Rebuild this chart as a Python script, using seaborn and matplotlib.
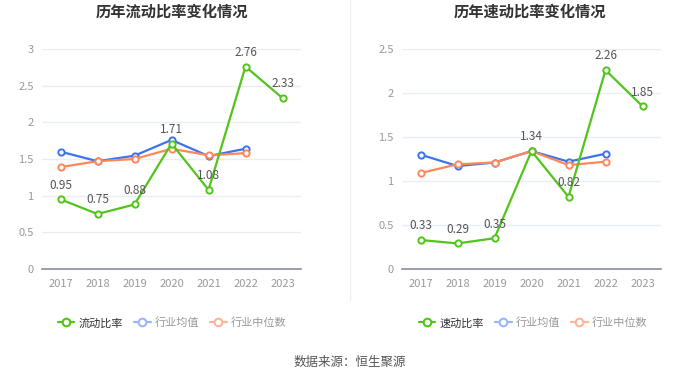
import matplotlib
matplotlib.use("Agg")
import matplotlib.pyplot as plt
import seaborn as sns
import pandas as pd
from matplotlib.lines import Line2D

years = ["2017", "2018", "2019", "2020", "2021", "2022", "2023"]
current_ratio = [0.95, 0.75, 0.88, 1.71, 1.08, 2.76, 2.33]
current_ind_mean = [1.60, 1.47, 1.545, 1.76, 1.54, 1.64, None]
current_ind_median = [1.39, 1.47, 1.50, 1.64, 1.55, 1.58, None]
quick_ratio = [0.33, 0.29, 0.35, 1.34, 0.82, 2.26, 1.85]
quick_ind_mean = [1.30, 1.17, 1.21, 1.34, 1.22, 1.31, None]
quick_ind_median = [1.09, 1.19, 1.21, 1.34, 1.18, 1.22, None]

sns.set_theme(style="white")
plt.rcParams['font.family'] = ['Noto Sans CJK SC', 'DejaVu Sans']

GREEN = "#52c41a"
BLUE = "#3b73f0"
ORANGE = "#ff875a"

fig = plt.figure(figsize=(7.0, 3.78), dpi=100)
ax1 = fig.add_axes([42/700, 1-269/378, 259/700, 220/378])
ax2 = fig.add_axes([402/700, 1-269/378, 259/700, 220/378])

def draw(ax, main, mean, median, ymax, yticks):
    df = pd.DataFrame({"year": list(range(len(years))), "main": main,
                       "mean": mean, "median": median})
    for col, color, z in [("mean", BLUE, 3), ("median", ORANGE, 4), ("main", GREEN, 5)]:
        sub = df[["year", col]].dropna()
        sns.lineplot(data=sub, x="year", y=col, ax=ax, color=color, lw=1.6,
                     marker="o", markersize=4.5, markerfacecolor="white",
                     markeredgecolor=color, markeredgewidth=1.4, zorder=z)
    for i, v in enumerate(main):
        ax.text(i, v + ymax * 0.035, f"{v:.2f}",
                ha="center", va="bottom", fontsize=8.5, color="#555555", zorder=6)
    ax.set_xlim(-0.5, len(years) - 0.5)
    ax.set_ylim(0, ymax)
    ax.set_yticks(yticks)
    ax.set_yticklabels([f"{t:g}" for t in yticks])
    ax.set_xticks(range(len(years)))
    ax.set_xticklabels(years)
    ax.tick_params(axis="both", labelsize=8, colors="#999999", length=0, pad=6)
    ax.tick_params(axis="x", length=4, color="#888888", pad=3)
    ax.grid(axis="y", color="#e9edf4", lw=1)
    ax.set_axisbelow(True)
    for s in ["top", "right", "left"]:
        ax.spines[s].set_visible(False)
    ax.spines["bottom"].set_color("#8a8f99")
    ax.spines["bottom"].set_linewidth(1.2)
    ax.set_xlabel("")
    ax.set_ylabel("")

draw(ax1, current_ratio, current_ind_mean, current_ind_median,
     3, [0, 0.5, 1, 1.5, 2, 2.5, 3])
draw(ax2, quick_ratio, quick_ind_mean, quick_ind_median,
     2.5, [0, 0.5, 1, 1.5, 2, 2.5])

fig.text(172/700, 1-12/378, "历年流动比率变化情况", ha="center", va="center",
         fontsize=11, fontweight="bold", color="#333333")
fig.text(530/700, 1-12/378, "历年速动比率变化情况", ha="center", va="center",
         fontsize=11, fontweight="bold", color="#333333")

def legend_handles(main_name):
    def h(color):
        return Line2D([0], [0], color=color, lw=1.6, marker="o", markersize=5.5,
                      markerfacecolor="white", markeredgecolor=color, markeredgewidth=1.5)
    return [h(GREEN), h("#9bb7f5"), h("#ffb39a")], [main_name, "行业均值", "行业中位数"]

for cx, name in [(172/700, "流动比率"), (533/700, "速动比率")]:
    hs, ls = legend_handles(name)
    leg = fig.legend(hs, ls, loc="center", bbox_to_anchor=(cx, 1-323/378), ncol=3,
                     frameon=False, fontsize=8, handlelength=1.5, handletextpad=0.35,
                     columnspacing=1.0)
    for i, t in enumerate(leg.get_texts()):
        t.set_color("#333333" if i == 0 else "#999999")

fig.add_artist(Line2D([350/700, 350/700], [1-300/378, 1.0], transform=fig.transFigure,
                      color="#f0f0f0", lw=1))
fig.text(0.5, 1-362/378, "数据来源：恒生聚源", ha="center", va="center",
         fontsize=9, color="#555555")

fig.savefig("out.png", dpi=100)
